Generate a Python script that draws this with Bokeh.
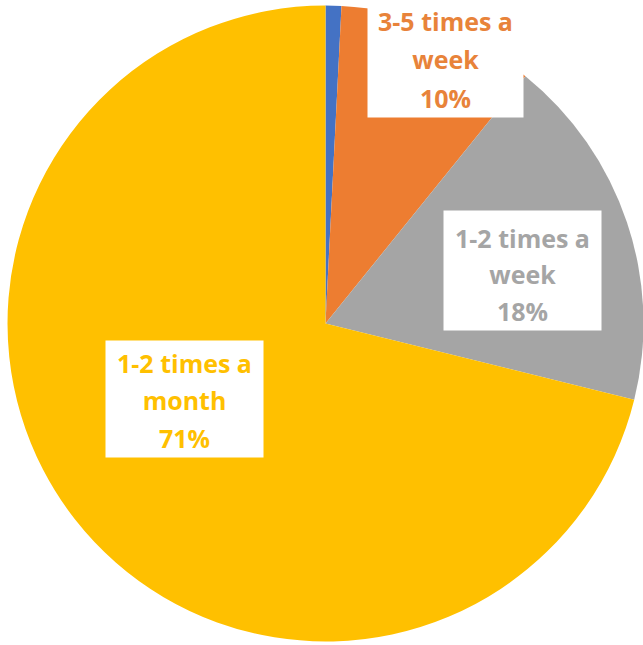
import math
from bokeh.plotting import figure
from bokeh.models import Range1d, ColumnDataSource
from bokeh.core.properties import value
from bokeh.embed import file_html
from bokeh.resources import INLINE

categories = ["Daily", "3-5 times a week", "1-2 times a week", "1-2 times a month"]
shares = [0.8, 10, 18, 71]
colors = ["#4472C4", "#ED7D31", "#A5A5A5", "#FFC000"]
label_lines = [None, ["3-5 times a", "week", "10%"], ["1-2 times a", "week", "18%"], ["1-2 times a", "month", "71%"]]
text_colors = [None, "#E8833A", "#A5A5A5", "#FFC000"]

W, H = 643, 645
cx, cy, r = 325, H - 323, 318

p = figure(width=W, height=H, x_range=Range1d(0, W), y_range=Range1d(0, H),
           output_backend="svg", toolbar_location=None, min_border=0)
p.axis.visible = False
p.grid.visible = False
p.outline_line_color = None
p.background_fill_color = "white"
p.border_fill_color = "white"

total = sum(shares)
starts, ends = [], []
acc = 0.0
for s in shares:
    a0 = math.pi / 2 - 2 * math.pi * acc / total
    acc += s
    a1 = math.pi / 2 - 2 * math.pi * acc / total
    starts.append(a0)
    ends.append(a1)

src = ColumnDataSource(dict(start=starts, end=ends, color=colors))
p.wedge(x=cx, y=cy, radius=r, start_angle="start", end_angle="end",
        direction="clock", fill_color="color", line_color=None, source=src)

# label boxes (pixel positions: left, top, right, bottom)
boxes = [None, (367, 0, 523, 117), (443, 210, 601, 330), (105, 340, 263, 457)]
line_ys = [None, (20, 58, 97), (237, 273, 310), (362, 399, 437)]
for i in range(1, 4):
    l, t, rr, b = boxes[i]
    p.quad(left=l, right=rr, top=H - t, bottom=H - b, fill_color="white", line_color=None)
    xc = (l + rr) / 2
    for txt, y in zip(label_lines[i], line_ys[i]):
        p.text(x=[xc], y=[H - y], text=[txt], text_align="center", text_baseline="middle",
               text_font=value("Open Sans"), text_font_style="bold", text_font_size="25px",
               text_color=text_colors[i])

open("out.html", "w").write(file_html(p, INLINE))
